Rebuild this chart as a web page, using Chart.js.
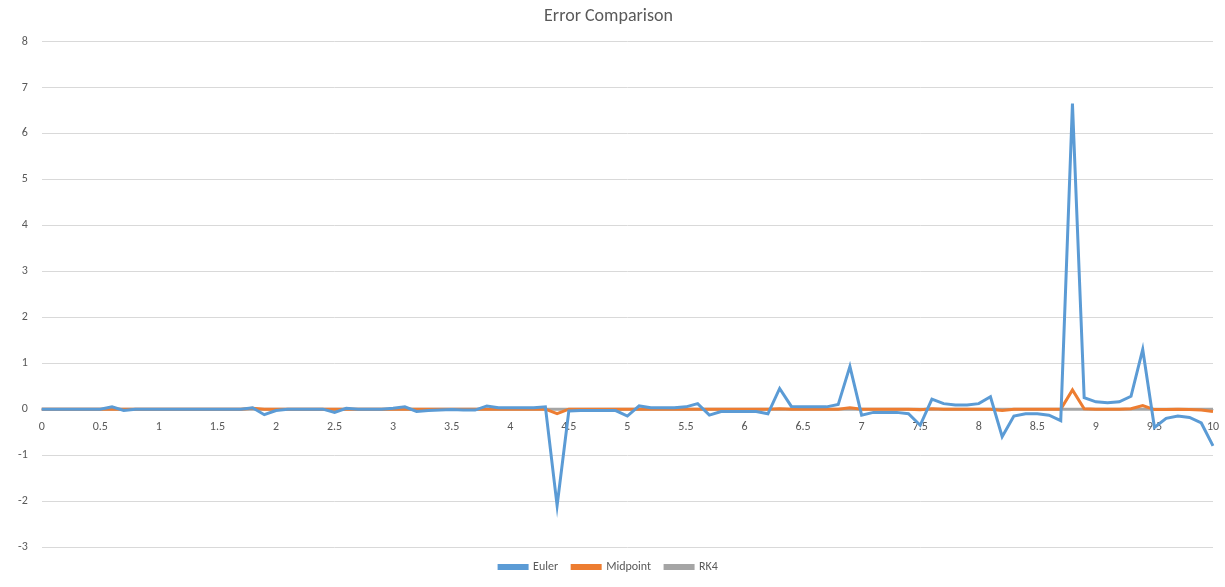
<!DOCTYPE html>
<html>
<head>
<meta charset="utf-8">
<script src="https://cdn.jsdelivr.net/npm/chart.js@4"></script>
<style>
  html, body { margin: 0; padding: 0; background: #fff; }
  #wrap { width: 1225px; height: 587px; }
</style>
</head>
<body>
<div id="wrap"><canvas id="c"></canvas></div>
<script>
// x values 0.0 .. 10.0 step 0.1
const xLabels = [];
for (let i = 0; i <= 100; i++) xLabels.push(String(Math.round(i) / 10));

const euler = [
  0, 0, 0, 0, 0, 0, 0.05, -0.03, 0, 0,
  0, 0, 0, 0, 0, 0, 0, 0, 0.03, -0.12,
  -0.03, 0, 0, 0, 0, -0.07, 0.02, 0, 0, 0,
  0.02, 0.05, -0.05, -0.03, -0.02, -0.01, -0.02, -0.02, 0.07, 0.03,
  0.03, 0.03, 0.03, 0.05, -2.1, -0.04, -0.03, -0.03, -0.03, -0.03,
  -0.15, 0.07, 0.03, 0.03, 0.03, 0.05, 0.12, -0.13, -0.05, -0.05,
  -0.05, -0.05, -0.1, 0.45, 0.06, 0.05, 0.05, 0.05, 0.1, 0.93,
  -0.13, -0.07, -0.07, -0.07, -0.1, -0.35, 0.22, 0.12, 0.09, 0.09,
  0.12, 0.27, -0.6, -0.15, -0.1, -0.1, -0.13, -0.25, 6.65, 0.25,
  0.16, 0.14, 0.16, 0.28, 1.3, -0.4, -0.2, -0.15, -0.18, -0.3,
  -0.8
];

const midpoint = [
  0, 0, 0, 0, 0, 0, 0, 0, 0, 0,
  0, 0, 0, 0, 0, 0, 0, 0, 0.02, 0,
  0, 0, 0, 0, 0, 0, 0, 0, 0, 0,
  0, 0, 0, 0, 0, 0, 0, 0, 0, 0,
  0, 0, 0, 0, -0.1, 0, 0, 0, 0, 0,
  0, 0, 0, 0, 0, 0, 0, 0, 0, 0,
  0, 0, 0, 0.01, 0, 0, 0, 0, 0, 0.03,
  0, 0, 0, 0, 0, -0.01, 0.01, 0, 0, 0,
  0, 0, -0.03, 0, 0, 0, 0, 0, 0.42, 0.01,
  0, 0, 0, 0.01, 0.08, -0.01, -0.01, 0, -0.01, -0.02,
  -0.05
];

const rk4 = xLabels.map(() => 0);

const font = { family: "Calibri, Carlito, 'Liberation Sans', sans-serif", size: 12 };

new Chart(document.getElementById("c"), {
  type: "line",
  data: {
    labels: xLabels,
    datasets: [
      { label: "Euler", data: euler, borderColor: "#5b9bd5", backgroundColor: "#5b9bd5" },
      { label: "Midpoint", data: midpoint, borderColor: "#ed7d31", backgroundColor: "#ed7d31" },
      { label: "RK4", data: rk4, borderColor: "#a5a5a5", backgroundColor: "#a5a5a5" }
    ]
  },
  options: {
    responsive: true,
    maintainAspectRatio: false,
    animation: false,
    layout: { padding: { left: 4, right: 12, top: 4, bottom: 4 } },
    elements: {
      point: { radius: 0 },
      line: { borderWidth: 3, tension: 0 }
    },
    plugins: {
      title: {
        display: true, text: "Error Comparison", color: "#595959",
        font: { family: font.family, size: 18, weight: "normal" },
        padding: { top: 2, bottom: 14 }
      },
      legend: {
        position: "bottom",
        labels: {
          color: "#595959", font: font, boxWidth: 28, boxHeight: 3,
          padding: 14
        }
      },
      tooltip: { enabled: false }
    },
    scales: {
      x: {
        position: { y: 0 },
        offset: false,
        grid: { display: false },
        border: { color: "#d9d9d9" },
        ticks: {
          color: "#595959", font: font, maxRotation: 0, autoSkip: false,
          callback: (v, i) => (i % 5 === 0 ? xLabels[i] : null)
        }
      },
      y: {
        min: -3, max: 8,
        grid: { color: "#d9d9d9", drawTicks: false },
        border: { display: false },
        ticks: { stepSize: 1, color: "#595959", font: font, padding: 14 }
      }
    }
  }
});
</script>
</body>
</html>
